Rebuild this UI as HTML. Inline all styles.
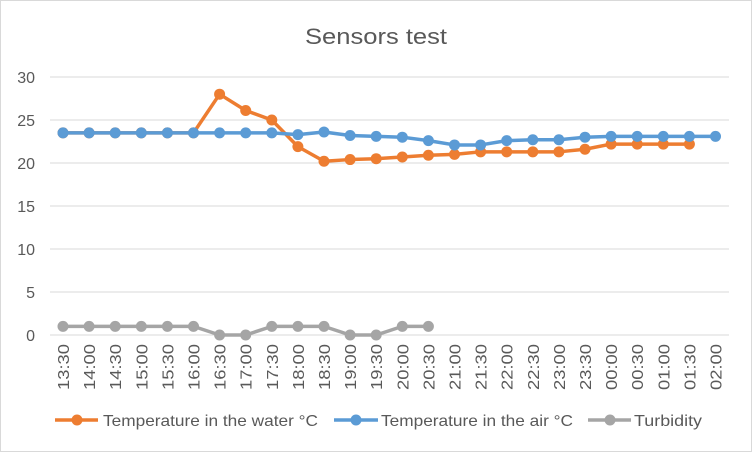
<!DOCTYPE html>
<html><head><meta charset="utf-8"><style>
body{margin:0;background:#fff;}
svg{display:block;font-family:"Liberation Sans",sans-serif;}
</style></head><body>
<svg id="chart" width="752" height="452">
<rect x="0.5" y="0.5" width="751" height="451" fill="#fff" stroke="#d9d9d9"/>
<text x="305" y="44" textLength="142" lengthAdjust="spacingAndGlyphs" font-size="22" fill="#595959">Sensors test</text>
<g id="grid"></g><g id="xlabels"></g><g id="ylabels"></g><g id="series"></g>
<g id="legend">
<g><line x1="55" y1="420" x2="98" y2="420" stroke="#ed7d31" stroke-width="3.5"/><circle cx="77" cy="420" r="5.5" fill="#ed7d31"/><text x="103" y="426" font-size="16" textLength="215" lengthAdjust="spacingAndGlyphs" fill="#595959">Temperature in the water °C</text></g>
<g><line x1="334" y1="420" x2="378" y2="420" stroke="#5b9bd5" stroke-width="3.5"/><circle cx="356" cy="420" r="5.5" fill="#5b9bd5"/><text x="381" y="426" font-size="16" textLength="192" lengthAdjust="spacingAndGlyphs" fill="#595959">Temperature in the air °C</text></g>
<g><line x1="588" y1="420" x2="631" y2="420" stroke="#a5a5a5" stroke-width="3.5"/><circle cx="610" cy="420" r="5.5" fill="#a5a5a5"/><text x="634" y="426" font-size="16" textLength="68" lengthAdjust="spacingAndGlyphs" fill="#595959">Turbidity</text></g>
</g>
</svg>
<script>
const categories=["13:30","14:00","14:30","15:00","15:30","16:00","16:30","17:00","17:30","18:00","18:30","19:00","19:30","20:00","20:30","21:00","21:30","22:00","22:30","23:00","23:30","00:00","00:30","01:00","01:30","02:00"];
const waterTemp=[23.5,23.5,23.5,23.5,23.5,23.5,28,26.1,25,21.9,20.2,20.4,20.5,20.7,20.9,21,21.3,21.3,21.3,21.3,21.6,22.2,22.2,22.2,22.2,null];
const airTemp=[23.5,23.5,23.5,23.5,23.5,23.5,23.5,23.5,23.5,23.3,23.6,23.2,23.1,23,22.6,22.1,22.1,22.6,22.7,22.7,23,23.1,23.1,23.1,23.1,23.1];
const turbidity=[1,1,1,1,1,1,0,0,1,1,1,0,0,1,1,null,null,null,null,null,null,null,null,null,null,null];
const yTicks=[0,5,10,15,20,25,30];
const NS="http://www.w3.org/2000/svg";
const x=i=>63+i*26.1;
const y=v=>335-v*8.6;
function mk(tag,attrs,parent){const e=document.createElementNS(NS,tag);for(const k in attrs)e.setAttribute(k,attrs[k]);parent.appendChild(e);return e;}
const grid=document.getElementById('grid'),yl=document.getElementById('ylabels'),xl=document.getElementById('xlabels'),ser=document.getElementById('series');
yTicks.forEach(t=>{
 const l=mk('line',{x1:50,x2:729,y1:y(t),y2:y(t),stroke:'#d9d9d9','stroke-width':1},grid);
 
 
 const tx=mk('text',{x:35,y:y(t)+6,'text-anchor':'end','font-size':16,fill:'#595959'},yl);
 tx.textContent=t;
 
 
});
categories.forEach((c,i)=>{
 const tx=mk('text',{transform:`translate(${x(i)+6},${390}) rotate(-90)`,'font-size':16,fill:'#595959',textLength:46,lengthAdjust:'spacingAndGlyphs'},xl);
 tx.textContent=c;
 
 
});
function draw(data,color,name){
 const g=mk('g',{},ser);
 
 
 let d='',pen=false;
 data.forEach((v,i)=>{if(v==null){pen=false;return;}d+=(pen?'L':'M')+x(i)+','+y(v);pen=true;});
 const p=mk('path',{d:d,fill:'none',stroke:color,'stroke-width':3.5,'stroke-linejoin':'round'},g);
 
 
 data.forEach((v,i)=>{if(v==null)return;
  const c=mk('circle',{cx:x(i),cy:y(v),r:5.5,fill:color},g);
  
  
 });
}
draw(waterTemp,'#ed7d31','water-temp');
draw(airTemp,'#5b9bd5','air-temp');
draw(turbidity,'#a5a5a5','turbidity');
</script>
</body></html>
